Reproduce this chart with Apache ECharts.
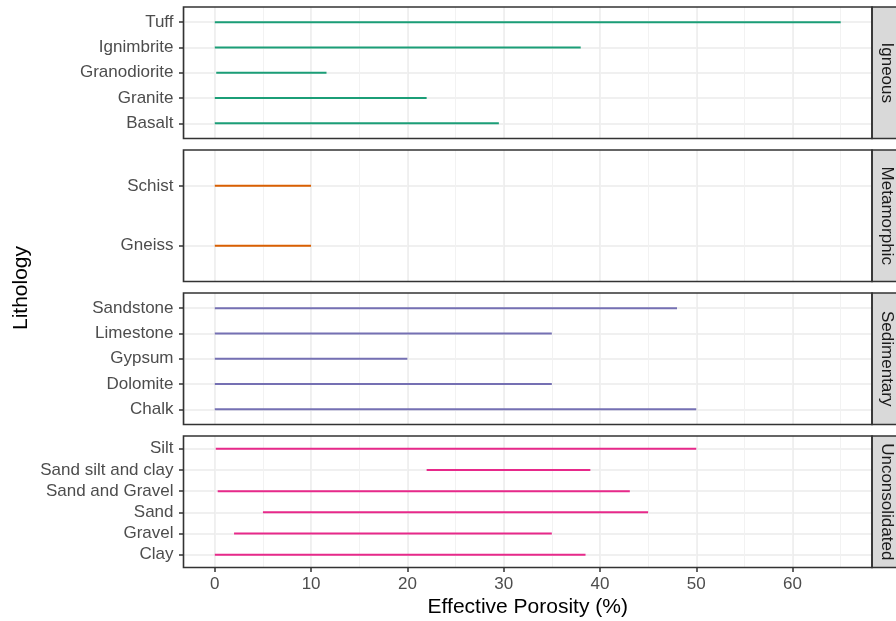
<!DOCTYPE html>
<html>
<head>
<meta charset="utf-8">
<script src="https://cdn.jsdelivr.net/npm/echarts@6/dist/echarts.min.js"></script>
<style>
html,body{margin:0;padding:0;background:#fff;}
#chart{width:896px;height:621px;}
</style>
</head>
<body>
<div id="chart"></div>
<script>
// ---- data (categories listed bottom to top) ----
const panelNames = ['Igneous', 'Metamorphic', 'Sedimentary', 'Unconsolidated'];
const colors = ['#1B9E77', '#D95F02', '#7570B3', '#E7298A'];

const igneousCats = ['Basalt', 'Granite', 'Granodiorite', 'Ignimbrite', 'Tuff'];
const igneousMin  = [0, 0, 0.15, 0, 0];
const igneousMax  = [29.5, 22, 11.6, 38, 65];

const metamorphicCats = ['Gneiss', 'Schist'];
const metamorphicMin  = [0, 0];
const metamorphicMax  = [10, 10];

const sedimentaryCats = ['Chalk', 'Dolomite', 'Gypsum', 'Limestone', 'Sandstone'];
const sedimentaryMin  = [0, 0, 0, 0, 0];
const sedimentaryMax  = [50, 35, 20, 35, 48];

const unconsolidatedCats = ['Clay', 'Gravel', 'Sand', 'Sand and Gravel', 'Sand silt and clay', 'Silt'];
const unconsolidatedMin  = [0, 2, 5, 0.3, 22, 0.1];
const unconsolidatedMax  = [38.5, 35, 45, 43.1, 39, 50];

const xTicks = [0, 10, 20, 30, 40, 50, 60];
const xMinor = 5;

// ---- layout ----
const panelTops = [7, 150, 293, 436];
const panelH = 131.5;
const panelLeft = 183.5, panelRight = 872;
const xMin = -3.25, xMax = 68.25;

const panels = [
  [igneousCats, igneousMin, igneousMax],
  [metamorphicCats, metamorphicMin, metamorphicMax],
  [sedimentaryCats, sedimentaryMin, sedimentaryMax],
  [unconsolidatedCats, unconsolidatedMin, unconsolidatedMax]
];

const grids = [], xAxes = [], yAxes = [], series = [], graphics = [];
const FONT = 'Liberation Sans, Arial, sans-serif';
const GRID_COL = '#EBEBEB';

panels.forEach((p, i) => {
  const cats = p[0], mins = p[1], maxs = p[2];
  const n = cats.length;
  const last = i === panels.length - 1;
  grids.push({
    left: panelLeft, top: panelTops[i], width: panelRight - panelLeft, height: panelH,
    outerBoundsMode: 'none', containLabel: false
  });
  // major x axis (bottom)
  xAxes.push({
    type: 'value', gridIndex: i, min: xMin, max: xMax,
    minInterval: 10, maxInterval: 10,
    position: 'bottom',
    axisLine: { show: false, onZero: false },
    axisTick: last ? { show: true, length: 4.5, customValues: xTicks, lineStyle: { color: '#333333', width: 1.5 } } : { show: false },
    axisLabel: last ? { show: true, customValues: xTicks, margin: 8, color: '#4D4D4D', fontSize: 17, fontFamily: FONT } : { show: false },
    splitLine: { show: true, lineStyle: { color: GRID_COL, width: 1.6 } },
    name: last ? 'Effective Porosity (%)' : '',
    nameLocation: 'middle', nameGap: 29,
    nameTextStyle: { color: '#000', fontSize: 21, fontFamily: FONT }
  });
  // minor x axis (gridlines only)
  xAxes.push({
    type: 'value', gridIndex: i, min: xMin, max: xMax,
    minInterval: xMinor, maxInterval: xMinor,
    position: 'top',
    axisLine: { show: false, onZero: false }, axisTick: { show: false }, axisLabel: { show: false },
    splitLine: { show: true, lineStyle: { color: '#F0F0F0', width: 0.9 } }
  });
  const yVals = cats.map((c, k) => k + 1);
  yAxes.push({
    type: 'value', gridIndex: i, min: 0.4, max: n + 0.6,
    minInterval: 1, maxInterval: 1,
    axisLine: { show: false, onZero: false },
    axisTick: { show: true, length: 4.5, customValues: yVals, lineStyle: { color: '#333333', width: 1.5 } },
    axisLabel: {
      show: true, customValues: yVals, margin: 10, color: '#4D4D4D', fontSize: 17, fontFamily: FONT,
      formatter: v => (Number.isInteger(v) && v >= 1 && v <= n) ? cats[v - 1] : ''
    },
    splitLine: { show: true, lineStyle: { color: GRID_COL, width: 1.6 } }
  });
  const data = cats.map((c, k) => [mins[k], maxs[k], k + 1, c]);
  const col = colors[i];
  series.push({
    type: 'custom', xAxisIndex: i * 2, yAxisIndex: i, data: data,
    encode: { x: [0, 1], y: 2 },
    renderItem: function (params, api) {
      const s = api.coord([api.value(0), api.value(2)]);
      const e = api.coord([api.value(1), api.value(2)]);
      return { type: 'line', shape: { x1: s[0], y1: s[1], x2: e[0], y2: e[1] },
               style: { stroke: col, lineWidth: 2 } };
    },
    z: 5
  });
  // panel border
  graphics.push({
    type: 'rect', z: 100, silent: true,
    shape: { x: panelLeft, y: panelTops[i], width: panelRight - panelLeft, height: panelH },
    style: { fill: 'none', stroke: '#333333', lineWidth: 1.6 }
  });
  // strip
  graphics.push({
    type: 'rect', z: 99, silent: true,
    shape: { x: panelRight, y: panelTops[i], width: 30, height: panelH },
    style: { fill: '#D9D9D9', stroke: '#333333', lineWidth: 1.6 }
  });
  graphics.push({
    type: 'text', z: 101, silent: true,
    x: 887, y: panelTops[i] + panelH / 2, rotation: -Math.PI / 2,
    style: { text: panelNames[i], fill: '#1A1A1A', font: '17px ' + FONT, align: 'center', verticalAlign: 'middle' }
  });
});

graphics.push({
  type: 'text', silent: true,
  x: 21, y: 288, rotation: Math.PI / 2,
  style: { text: 'Lithology', fill: '#000', font: '21px ' + FONT, align: 'center', verticalAlign: 'middle' }
});

const chart = echarts.init(document.getElementById('chart'), null, { renderer: 'canvas' });
chart.setOption({
  animation: false,
  backgroundColor: '#fff',
  grid: grids,
  xAxis: xAxes,
  yAxis: yAxes,
  series: series,
  graphic: graphics
});
</script>
</body>
</html>
